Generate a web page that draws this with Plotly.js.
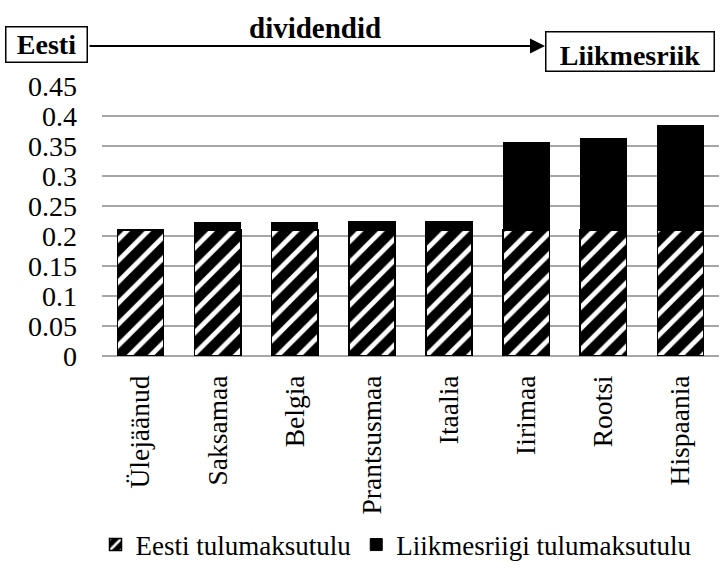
<!DOCTYPE html>
<html>
<head>
<meta charset="utf-8">
<script src="https://cdn.plot.ly/plotly-3.0.1.min.js"></script>
<style>html,body{margin:0;padding:0;background:#fff;}#chart{width:720px;height:580px;}</style>
</head>
<body>
<div id="chart"></div>
<script>
const categories = ['Ülejäänud','Saksamaa','Belgia','Prantsusmaa','Itaalia','Iirimaa','Rootsi','Hispaania'];
const eestiTulu = [0.21, 0.21, 0.21, 0.21, 0.21, 0.21, 0.21, 0.21];
const liikmesTulu = [0, 0.0133, 0.0133, 0.015, 0.015, 0.1455, 0.153, 0.175];
const seriesNames = ['Eesti tulumaksutulu', 'Liikmesriigi tulumaksutulu'];
const yTicks = [0, 0.05, 0.1, 0.15, 0.2, 0.25, 0.3, 0.35, 0.4, 0.45];

const FONT = "'Liberation Serif', 'Times New Roman', serif";
const L = 102, R = 719, T = 86, B = 356;
const W = 720, H = 580;
const px = x => (x - L) / (R - L);
const py = y => (B - y) / (B - T);

const traces = [
  {
    type: 'bar', name: seriesNames[0], x: categories, y: eestiTulu,
    marker: {
      color: 'black',
      line: {color: 'black', width: 1.5},
      pattern: {shape: '/', fgcolor: 'white', bgcolor: 'black', size: 15, solidity: 0.32}
    },
    hoverinfo: 'skip'
  },
  {
    type: 'bar', name: seriesNames[1], x: categories, y: liikmesTulu,
    marker: {color: 'black', line: {color: 'black', width: 1}},
    hoverinfo: 'skip'
  }
];

const layout = {
  width: W, height: H,
  margin: {l: L, r: W - R, t: T, b: H - B, pad: 0, autoexpand: false},
  paper_bgcolor: 'white', plot_bgcolor: 'white',
  barmode: 'stack', bargap: 0.4,
  font: {family: FONT, size: 27, color: 'black'},
  showlegend: true,
  legend: {
    orientation: 'h', x: px(396), xanchor: 'center', y: py(545), yanchor: 'middle',
    font: {family: FONT, size: 27, color: 'black'}, itemwidth: 30, traceorder: 'normal',
    tracegroupgap: 0, bgcolor: 'rgba(0,0,0,0)'
  },
  xaxis: {
    type: 'category', tickangle: -90, showgrid: false, showline: false, zeroline: false,
    ticks: '', ticklabelstandoff: 13,
    tickfont: {family: FONT, size: 27.5, color: 'black'}
  },
  yaxis: {
    range: [0, 0.45], tickvals: yTicks, ticktext: yTicks.map(v => String(v)),
    showgrid: true, gridcolor: '#a6a6a6', gridwidth: 1.5,
    zeroline: true, zerolinecolor: '#a6a6a6', zerolinewidth: 1.5,
    showline: false, ticks: '', ticklabelstandoff: 24,
    tickfont: {family: FONT, size: 28, color: 'black'}
  },
  annotations: [
    {
      xref: 'paper', yref: 'paper', x: px(545), y: py(46),
      ax: -457, ay: 0, axref: 'pixel', ayref: 'pixel',
      text: '', showarrow: true, arrowhead: 2, arrowsize: 1.5, arrowwidth: 2, arrowcolor: 'black', standoff: 0
    },
    {
      xref: 'paper', yref: 'paper', x: px(46.5), y: py(45), xanchor: 'center', yanchor: 'middle',
      text: '<b>Eesti</b>', showarrow: false, bgcolor: 'white', bordercolor: 'black', borderwidth: 1.5,
      borderpad: 0, width: 80, height: 34, font: {family: FONT, size: 28, color: 'black'}
    },
    {
      xref: 'paper', yref: 'paper', x: px(315), y: py(28), xanchor: 'center', yanchor: 'middle',
      text: '<b>dividendid</b>', showarrow: false, font: {family: FONT, size: 29, color: 'black'}
    },
    {
      xref: 'paper', yref: 'paper', x: px(630), y: py(51), xanchor: 'center', yanchor: 'middle',
      text: '<b>Liikmesriik</b>', showarrow: false, bgcolor: 'white', bordercolor: 'black', borderwidth: 1.5,
      borderpad: 0, width: 167, height: 38, valign: 'bottom', font: {family: FONT, size: 28, color: 'black'}
    }
  ]
};

Plotly.newPlot('chart', traces, layout, {staticPlot: true, displayModeBar: false});
</script>
</body>
</html>
